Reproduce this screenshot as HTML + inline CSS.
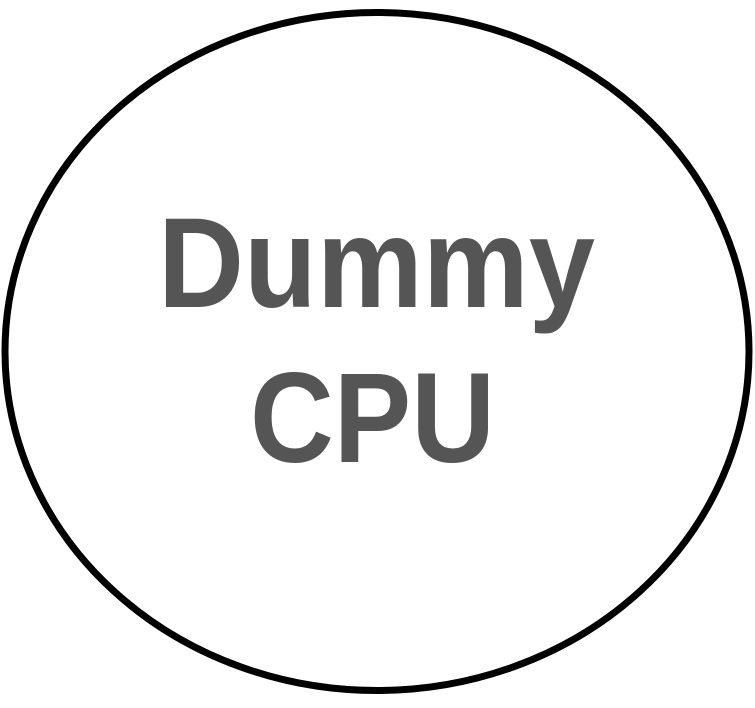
<!DOCTYPE html>
<html><head><style>html,body{margin:0;padding:0;background:#fff;}</style></head>
<body>
<svg width="755" height="703" viewBox="0 0 755 703" xmlns="http://www.w3.org/2000/svg">
<ellipse cx="377" cy="351.5" rx="372" ry="339" fill="#fff" stroke="#000" stroke-width="7"/>
<text x="158" y="307" font-family="Liberation Sans, sans-serif" font-weight="bold" font-size="128" fill="#555" textLength="437" lengthAdjust="spacingAndGlyphs">Dummy</text>
<text x="250" y="462" font-family="Liberation Sans, sans-serif" font-weight="bold" font-size="128" fill="#555" textLength="245" lengthAdjust="spacingAndGlyphs">CPU</text>
</svg>
</body></html>
